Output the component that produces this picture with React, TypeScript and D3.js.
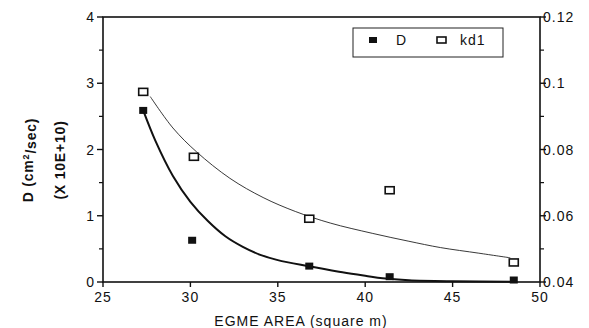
import React, { useEffect, useRef } from 'react';
import * as d3 from 'd3';

// measured values
const dArea = [27.3, 30.1, 36.8, 41.4, 48.5];
const dValues = [2.59, 0.63, 0.24, 0.08, 0.03];
const kdArea = [27.3, 30.2, 36.8, 41.4, 48.5];
const kdValues = [0.0974, 0.0778, 0.0591, 0.0677, 0.0459];

// fitted curves
const dFitX = [27.3, 28, 29, 30, 31, 32, 33, 34, 35, 36.7, 38.5, 40, 41, 42.5, 45, 48.5];
const dFitY = [2.59, 2.13, 1.6, 1.21, 0.92, 0.69, 0.53, 0.41, 0.33, 0.24, 0.155, 0.095, 0.055, 0.025, 0.01, 0.005];
const kdFitX = [27.7, 29, 30.35, 32.26, 34.16, 36, 38, 40.4, 42.5, 44.3, 46.5, 48.3];
const kdFitY = [0.096, 0.0865, 0.0793, 0.0713, 0.0655, 0.0613, 0.0578, 0.0547, 0.0523, 0.0504, 0.0487, 0.0473];

const xTicks = [25, 30, 35, 40, 45, 50];
const leftTicks = [0, 1, 2, 3, 4];
const leftMinor = [0.5, 1.5, 2.5, 3.5];
const rightTicks = [0.04, 0.06, 0.08, 0.1, 0.12];
const rightMinor = [0.05, 0.07, 0.09, 0.11];

const W = 589;
const H = 328;
const FONT = 'Liberation Sans, Arial, Helvetica, sans-serif';

export default function App() {
  const ref = useRef<SVGSVGElement>(null);

  useEffect(() => {
    if (!ref.current) return;
    const svg = d3.select(ref.current);
    svg.selectAll('*').remove();

    const x = d3.scaleLinear().domain([25, 50]).range([103, 540]);
    const yL = d3.scaleLinear().domain([0, 4]).range([282, 17]);
    const yR = d3.scaleLinear().domain([0.04, 0.12]).range([282, 17]);

    svg.append('rect').attr('width', W).attr('height', H).attr('fill', '#fff');

    const g = svg.append('g');

    // frame
    g.append('rect')
      .attr('x', x(25)).attr('y', yL(4))
      .attr('width', x(50) - x(25)).attr('height', yL(0) - yL(4))
      .attr('fill', 'none').attr('stroke', '#111').attr('stroke-width', 1.6);

    const label = (sel: any) => sel.attr('font-family', FONT).attr('font-size', 14)
      .attr('letter-spacing', 1).attr('fill', '#111');

    // left axis ticks
    leftTicks.forEach(t => {
      g.append('line').attr('x1', x(25) - 6).attr('x2', x(25)).attr('y1', yL(t)).attr('y2', yL(t))
        .attr('stroke', '#111').attr('stroke-width', 1.4);
      g.append('text').attr('x', x(25) - 8).attr('y', yL(t)).attr('dy', '0.36em')
        .attr('text-anchor', 'end').call(label).text(t);
    });
    leftMinor.forEach(t => {
      g.append('line').attr('x1', x(25) - 4).attr('x2', x(25)).attr('y1', yL(t)).attr('y2', yL(t))
        .attr('stroke', '#111').attr('stroke-width', 1.2);
    });

    // right axis ticks
    rightTicks.forEach(t => {
      g.append('line').attr('x1', x(50)).attr('x2', x(50) + 6).attr('y1', yR(t)).attr('y2', yR(t))
        .attr('stroke', '#111').attr('stroke-width', 1.4);
      g.append('text').attr('x', x(50) + 3).attr('y', yR(t)).attr('dy', '0.36em')
        .call(label).text(String(t));
    });
    rightMinor.forEach(t => {
      g.append('line').attr('x1', x(50)).attr('x2', x(50) + 4).attr('y1', yR(t)).attr('y2', yR(t))
        .attr('stroke', '#111').attr('stroke-width', 1.2);
    });

    // x axis ticks
    xTicks.forEach(t => {
      g.append('line').attr('x1', x(t)).attr('x2', x(t)).attr('y1', yL(0)).attr('y2', yL(0) + 5)
        .attr('stroke', '#111').attr('stroke-width', 1.4);
      g.append('text').attr('x', x(t)).attr('y', yL(0) + 15).attr('dy', '0.36em')
        .attr('text-anchor', 'middle').call(label).text(t);
    });

    // axis titles
    g.append('text').attr('x', 301).attr('y', 321).attr('dy', '0.36em')
      .attr('text-anchor', 'middle').call(label)
      .text('EGME AREA (square m)');

    const yt1 = g.append('text').attr('transform', 'translate(28,160) rotate(-90)').attr('dy', '0.36em')
      .attr('text-anchor', 'middle').attr('font-family', FONT).attr('font-size', 14)
      .attr('letter-spacing', 0.8).attr('font-weight', 'bold').attr('fill', '#111');
    yt1.append('tspan').text('D (cm');
    yt1.append('tspan').attr('font-size', 9).attr('dy', '-0.5em').text('2');
    yt1.append('tspan').attr('dy', '0.5em').text('/sec)');

    g.append('text').attr('transform', 'translate(60,160) rotate(-90)').attr('dy', '0.36em')
      .attr('text-anchor', 'middle').attr('font-family', FONT).attr('font-size', 14)
      .attr('letter-spacing', 0.8).attr('font-weight', 'bold').attr('fill', '#111')
      .text('(X 10E+10)');

    // fitted curves
    const dLine = d3.line<number>().x((_, i) => x(dFitX[i])).y(d => yL(d)).curve(d3.curveCatmullRom.alpha(0.5));
    g.append('path').datum(dFitY).attr('d', dLine).attr('fill', 'none')
      .attr('stroke', '#111').attr('stroke-width', 2);

    const kdLine = d3.line<number>().x((_, i) => x(kdFitX[i])).y(d => yR(d)).curve(d3.curveCatmullRom.alpha(0.5));
    g.append('path').datum(kdFitY).attr('d', kdLine).attr('fill', 'none')
      .attr('stroke', '#222').attr('stroke-width', 0.9);

    // D markers
    g.selectAll('.dpt').data(dValues).enter().append('rect')
      .attr('x', (_, i) => x(dArea[i]) - 4).attr('y', d => yL(d) - 3.5)
      .attr('width', 8).attr('height', 7).attr('fill', '#111');

    // kd1 markers
    g.selectAll('.kpt').data(kdValues).enter().append('rect')
      .attr('x', (_, i) => x(kdArea[i]) - 4.5).attr('y', d => yR(d) - 3.5)
      .attr('width', 9).attr('height', 7).attr('fill', '#fff')
      .attr('stroke', '#111').attr('stroke-width', 1.6);

    // legend
    const lg = g.append('g');
    lg.append('rect').attr('x', 353).attr('y', 28).attr('width', 150).attr('height', 29)
      .attr('fill', '#fff').attr('stroke', '#222').attr('stroke-width', 1);
    lg.append('rect').attr('x', 369).attr('y', 37).attr('width', 8).attr('height', 6).attr('fill', '#111');
    lg.append('text').attr('x', 396).attr('y', 40).attr('dy', '0.36em').call(label).text('D');
    lg.append('rect').attr('x', 437).attr('y', 37).attr('width', 9).attr('height', 6).attr('fill', '#fff')
      .attr('stroke', '#111').attr('stroke-width', 1.6);
    lg.append('text').attr('x', 460).attr('y', 40).attr('dy', '0.36em').call(label).text('kd1');
  }, []);

  return (
    <svg ref={ref} width={W} height={H} style={{ position: 'absolute', left: 0, top: 0 }} />
  );
}
